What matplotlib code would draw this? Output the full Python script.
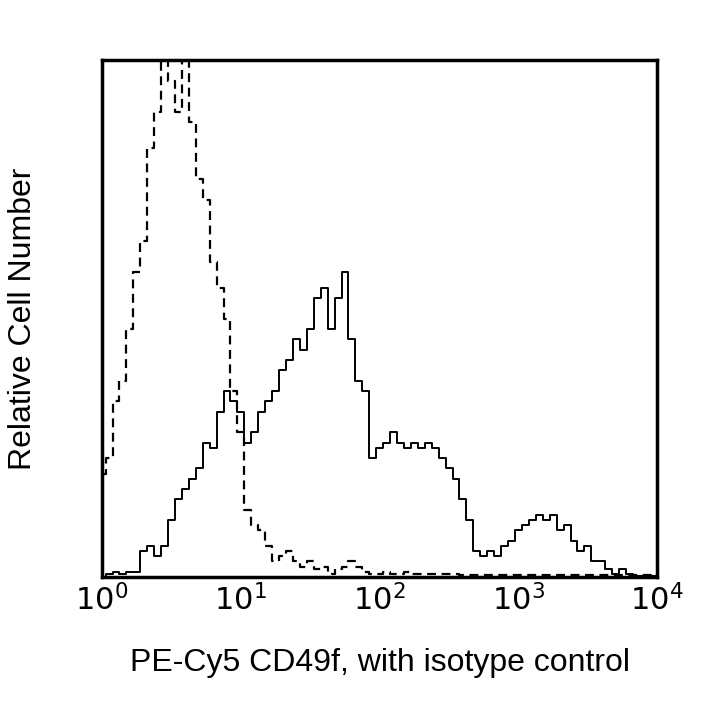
import matplotlib
matplotlib.use("Agg")
import matplotlib.pyplot as plt
import numpy as np

plt.rcParams["font.family"] = "Liberation Sans"

# bin centres in log10 units (0.05 decade per bin)
log_bins = np.arange(0, 4.0001, 0.05)

isotype = [20, 23, 34, 38, 48, 59, 65, 83, 90, 104, 96, 90, 106, 88, 77, 73, 61, 56, 50, 36,
           28, 13, 10, 9, 6, 3, 4, 5, 3, 2, 3, 1.5, 2, 0.5, 1.5, 2, 3, 2, 1, 0.5,
           0.5, 1, 0.5, 0.5, 1, 0.5, 0.5, 0.5, 0.5, 0.5, 0.5, 0.5, 0.3, 0.3, 0.3, 0.3, 0.3, 0.3, 0.3, 0.3,
           0.3, 0.3, 0.3, 0.3, 0.3, 0.3, 0.3, 0.3, 0.3, 0.3, 0.3, 0.3, 0.3, 0.3, 0.3, 0.3, 0.3, 0.3, 0.3, 0.3, 0.3]

cd49f = [0, 0.5, 1, 0.5, 1, 1, 5, 6, 4, 6, 11, 15, 17, 19, 21, 26, 25, 32, 36, 34,
         32, 26, 28, 32, 34, 36, 40, 42, 46, 44, 48, 54, 56, 48, 54, 59, 46, 38, 36, 23,
         25, 26, 28, 26, 25, 26, 25, 26, 25, 23, 21, 19, 15, 11, 5, 4, 5, 4, 6, 7,
         9, 10, 11, 12, 11, 12, 9, 10, 7, 5, 6, 3, 3, 1.5, 0.5, 1.5, 0.5, 0.2, 0.2, 0.2, 0.2]

x = 10 ** log_bins

fig = plt.figure(figsize=(7.2, 7.2), dpi=100)
ax = fig.add_axes([0.1417, 0.1986, 0.771, 0.718])
ax.step(x, isotype, where="mid", color="black", lw=1.6, linestyle=(0, (4, 2.5)))
ax.step(x, cd49f, where="mid", color="black", lw=1.4)

ax.set_xscale("log")
ax.set_xlim(1, 1e4)
ax.set_ylim(0, 100)
ax.set_yticks([])
ax.set_xticks([1, 10, 100, 1000, 10000])
ax.set_xticklabels([r"$10^{%d}$" % i for i in range(5)])
ax.minorticks_off()
ax.tick_params(axis="x", labelsize=22, length=0, pad=6)
for spine in ax.spines.values():
    spine.set_linewidth(2.5)

ax.set_xlabel("PE-Cy5 CD49f, with isotype control", fontsize=23, labelpad=22)
ax.set_ylabel("Relative Cell Number", fontsize=23, labelpad=46)

plt.savefig("out.png", dpi=100)
